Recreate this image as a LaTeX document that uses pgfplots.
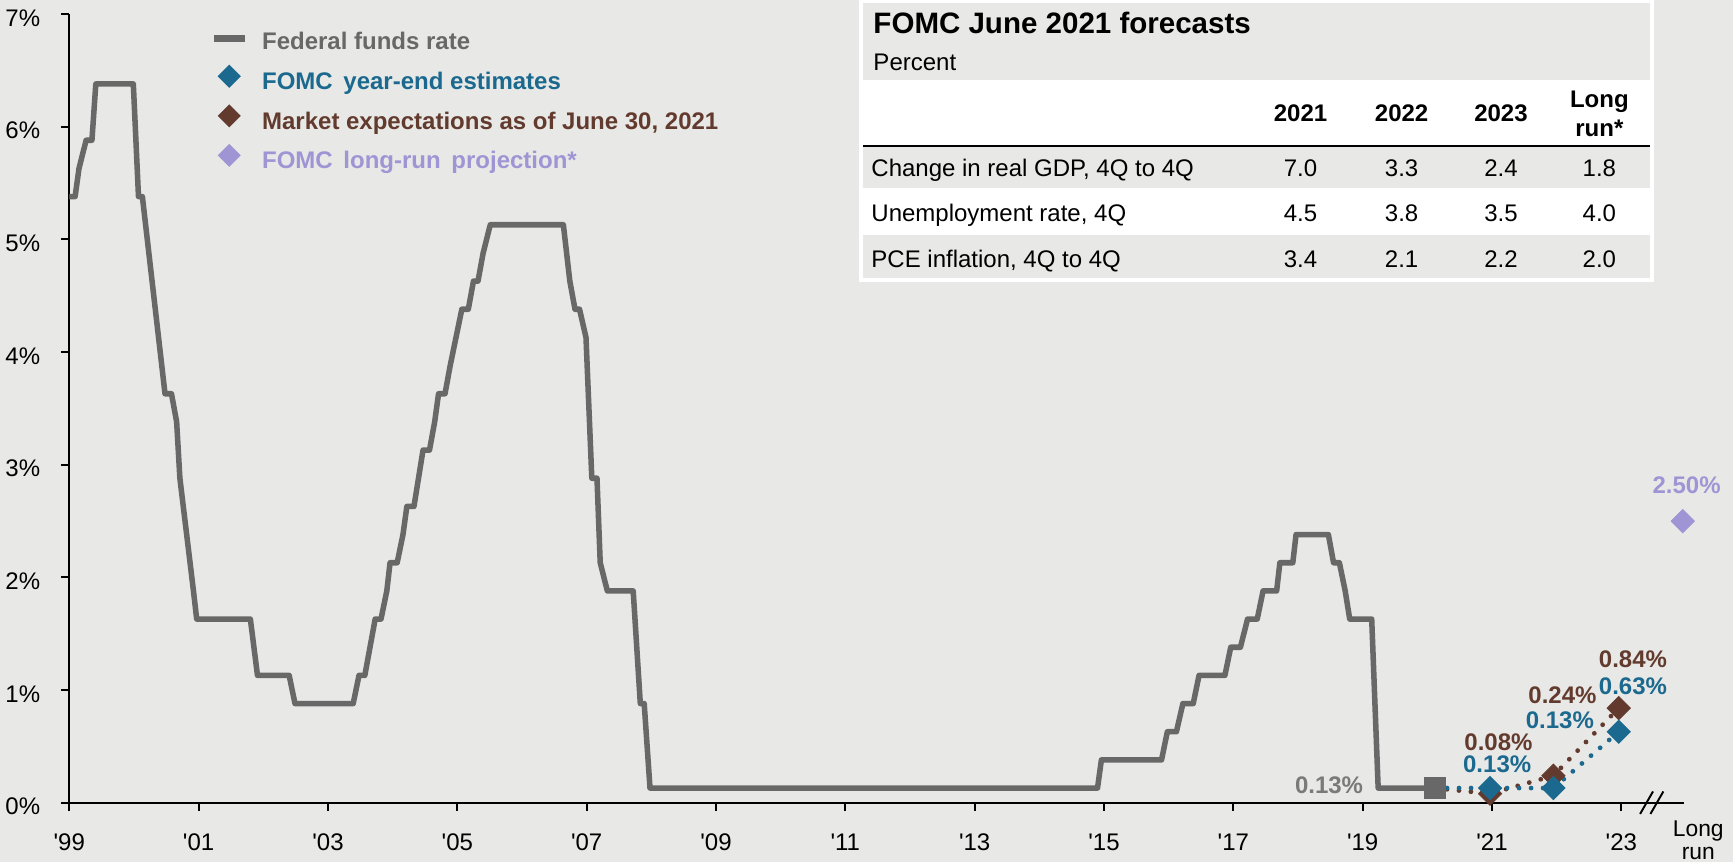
\documentclass[border=0pt]{standalone}
\usepackage{fontspec}
\setmainfont{Liberation Sans}[Ligatures=TeXOff]
\usepackage{pgfplots}
\pgfplotsset{compat=1.18}
\definecolor{bg}{RGB}{232,232,230}
\definecolor{ffr}{RGB}{104,104,104}
\definecolor{lbl}{RGB}{122,122,122}
\definecolor{fomc}{RGB}{27,105,143}
\definecolor{mkt}{RGB}{99,59,46}
\definecolor{lr}{RGB}{160,149,212}
\tikzset{lab/.style={font=\fontsize{10}{12}\selectfont\bfseries, inner sep=0pt, text height=7.2pt, text depth=0pt}}
\begin{document}
\begin{tikzpicture}
\fill[bg] (0,0) rectangle (722.08pt,359.17pt);
\path[use as bounding box] (0,0) rectangle (722.08pt,359.17pt);
\begin{axis}[
  at={(28.875pt,24.71pt)}, anchor=south west,
  width=672.8pt, height=328.6pt, scale only axis,
  xmin=1999, xmax=2023.97, ymin=0, ymax=7,
  clip=false,
  axis lines=left,
  axis line style={-, line width=0.8pt, black},
  tick style={black, line width=0.8pt},
  tick align=outside,
  major tick length=3.3pt,
  xtick={1999,2001,2003,2005,2007,2009,2011,2013,2015,2017,2019,2021,2023},
  xticklabels={'99,'01,'03,'05,'07,'09,'11,'13,'15,'17,'19,'21,'23},
  ytick={0,1,2,3,4,5,6,7},
  yticklabels={0\%,1\%,2\%,3\%,4\%,5\%,6\%,7\%},
  xticklabel style={font=\fontsize{10}{12}\selectfont, anchor=north, inner sep=0pt, text height=7.2pt, text depth=0pt, yshift=-9.3pt},
  yticklabel style={font=\fontsize{10}{12}\selectfont, anchor=east, inner sep=0pt, text height=7.2pt, text depth=0pt, xshift=-8.67pt, yshift=-1.5pt},
  legend style={at={(axis description cs:0.0871,0.9875)}, anchor=north west, draw=none, fill=none, inner sep=0pt, row sep=2.5pt, column sep=5.85pt,
    nodes={inner sep=0pt, text height=7.2pt, text depth=0pt, font=\fontsize{10}{12}\selectfont\bfseries}},
  legend cell align=left,
]
\addlegendimage{legend image code/.code={\path[draw=none,fill=none] (0pt,-7pt) rectangle (12.9pt,7pt); \draw[ffr,line width=2.8pt] (0pt,1pt) -- (12.9pt,1pt);}}
\addlegendentry{\textcolor{ffr}{Federal funds rate}}
\addlegendimage{legend image code/.code={\path[draw=none,fill=none] (0pt,-7pt) rectangle (12.9pt,7pt); \fill[fomc,draw=none] (6.45pt,6.7pt) -- (11.25pt,1.9pt) -- (6.45pt,-2.9pt) -- (1.65pt,1.9pt) -- cycle;}}
\addlegendentry{\textcolor{fomc}{FOMC\, year-end estimates}}
\addlegendimage{legend image code/.code={\path[draw=none,fill=none] (0pt,-7pt) rectangle (12.9pt,7pt); \fill[mkt,draw=none] (6.45pt,6.7pt) -- (11.25pt,1.9pt) -- (6.45pt,-2.9pt) -- (1.65pt,1.9pt) -- cycle;}}
\addlegendentry{\textcolor{mkt}{Market expectations as of June 30, 2021}}
\addlegendimage{legend image code/.code={\path[draw=none,fill=none] (0pt,-7pt) rectangle (12.9pt,7pt); \fill[lr,draw=none] (6.45pt,6.7pt) -- (11.25pt,1.9pt) -- (6.45pt,-2.9pt) -- (1.65pt,1.9pt) -- cycle;}}
\addlegendentry{\textcolor{lr}{FOMC\, long-run\, projection*}}

% dotted projections
\addplot[mkt, line width=2.0pt, dash pattern=on 0pt off 5pt, line cap=round, forget plot]
  coordinates {(2020.12,0.13) (2020.97,0.08) (2021.95,0.24) (2022.96,0.84)};
\addplot[fomc, line width=2.0pt, dash pattern=on 0pt off 5pt, line cap=round, forget plot]
  coordinates {(2020.12,0.13) (2020.97,0.13) (2021.95,0.13) (2022.96,0.63)};

% federal funds rate
\addplot[ffr, line width=2.3pt, line join=round, forget plot] coordinates {
(1999.00,5.38) (1999.09,5.38) (1999.15,5.63) (1999.26,5.88) (1999.35,5.88)
(1999.41,6.38) (1999.99,6.38) (2000.07,5.38) (2000.13,5.38) (2000.48,3.63)
(2000.58,3.63) (2000.66,3.38) (2000.71,2.88) (2000.92,1.88) (2000.97,1.63)
(2001.80,1.63) (2001.91,1.13) (2002.40,1.13) (2002.49,0.88) (2003.39,0.88)
(2003.48,1.13) (2003.57,1.13) (2003.65,1.38) (2003.73,1.63) (2003.82,1.63)
(2003.91,1.88) (2003.96,2.13) (2004.07,2.13) (2004.16,2.38) (2004.22,2.63)
(2004.33,2.63) (2004.40,2.88) (2004.47,3.13) (2004.57,3.13) (2004.65,3.38)
(2004.71,3.63) (2004.81,3.63) (2004.89,3.88) (2005.07,4.38) (2005.17,4.38)
(2005.25,4.63) (2005.32,4.63) (2005.40,4.88) (2005.51,5.13) (2006.64,5.13)
(2006.74,4.63) (2006.82,4.38) (2006.89,4.38) (2006.99,4.13) (2007.08,2.88)
(2007.16,2.88) (2007.21,2.13) (2007.32,1.88) (2007.72,1.88) (2007.83,0.88)
(2007.89,0.88) (2007.98,0.13) (2014.90,0.13) (2014.96,0.38) (2015.89,0.38)
(2015.98,0.63) (2016.12,0.63) (2016.22,0.88) (2016.38,0.88) (2016.47,1.13)
(2016.87,1.13) (2016.96,1.38) (2017.11,1.38) (2017.22,1.63) (2017.37,1.63)
(2017.46,1.88) (2017.67,1.88) (2017.72,2.13) (2017.92,2.13) (2017.97,2.38)
(2018.47,2.38) (2018.55,2.13) (2018.64,2.13) (2018.73,1.88) (2018.80,1.63)
(2019.14,1.63) (2019.24,0.13) (2020.12,0.13)};
\addplot[ffr, only marks, mark=square*, mark size=4.4pt, forget plot] coordinates {(2020.12,0.13)};

% markers
\addplot[mkt, only marks, mark=square*, mark size=3.4pt, mark options={rotate=45}, forget plot]
  coordinates {(2020.97,0.08) (2021.95,0.24) (2022.96,0.84)};
\addplot[fomc, only marks, mark=square*, mark size=3.4pt, mark options={rotate=45}, forget plot]
  coordinates {(2020.97,0.13) (2021.95,0.13) (2022.96,0.63)};
\addplot[lr, only marks, mark=square*, mark size=3.4pt, mark options={rotate=45}, forget plot]
  coordinates {(2023.95,2.50)};

% data labels
\node[lab, text=lbl] at (axis cs:2018.48,0.16) {0.13\%};
\node[lab, text=mkt] at (axis cs:2021.10,0.54) {0.08\%};
\node[lab, text=fomc] at (axis cs:2021.08,0.345) {0.13\%};
\node[lab, text=mkt] at (axis cs:2022.09,0.956) {0.24\%};
\node[lab, text=fomc] at (axis cs:2022.05,0.734) {0.13\%};
\node[lab, text=mkt] at (axis cs:2023.18,1.273) {0.84\%};
\node[lab, text=fomc] at (axis cs:2023.18,1.036) {0.63\%};
\node[lab, text=lr] at (axis cs:2024.01,2.82) {2.50\%};

% axis break and long run label
\draw[black, line width=0.8pt] (axis cs:2023.29,-0.1) -- (axis cs:2023.49,0.1);
\draw[black, line width=0.8pt] (axis cs:2023.45,-0.1) -- (axis cs:2023.65,0.1);
\node[anchor=base, font=\fontsize{9.5}{11}\selectfont, inner sep=0pt, yshift=-14.1pt] at (axis cs:2024.19,0) {Long};
\node[anchor=base, font=\fontsize{9.5}{11}\selectfont, inner sep=0pt, yshift=-23.5pt] at (axis cs:2024.19,0) {run};
\end{axis}

% forecast table
\fill[white] (357.9pt,241.5pt) rectangle (689.2pt,359.17pt);
\fill[bg] (359.7pt,325.8pt) rectangle (687.5pt,357.9pt);
\fill[bg] (359.7pt,280.8pt) rectangle (687.5pt,297.8pt);
\fill[bg] (359.7pt,243.2pt) rectangle (687.5pt,261.25pt);
\draw[black, line width=1pt] (359.7pt,298.3pt) -- (687.5pt,298.3pt);
\begin{scope}[every node/.style={inner sep=0pt, font=\fontsize{10}{12}\selectfont}]
\node[anchor=base west, font=\fontsize{12.3}{14}\selectfont\bfseries] at (363.75pt,345.3pt) {FOMC June 2021 forecasts};
\node[anchor=base west] at (363.75pt,329.75pt) {Percent};
\node[anchor=base, font=\fontsize{10}{12}\selectfont\bfseries] at (541.9pt,308.5pt) {2021};
\node[anchor=base, font=\fontsize{10}{12}\selectfont\bfseries] at (584.0pt,308.5pt) {2022};
\node[anchor=base, font=\fontsize{10}{12}\selectfont\bfseries] at (625.4pt,308.5pt) {2023};
\node[anchor=base, font=\fontsize{10}{12}\selectfont\bfseries] at (666.4pt,314.3pt) {Long};
\node[anchor=base, font=\fontsize{10}{12}\selectfont\bfseries] at (666.4pt,302.4pt) {run*};
\node[anchor=base west] at (362.9pt,285.6pt) {Change in real GDP, 4Q to 4Q};
\node[anchor=base west] at (362.9pt,266.7pt) {Unemployment rate, 4Q};
\node[anchor=base west] at (362.9pt,247.9pt) {PCE inflation, 4Q to 4Q};
\node[anchor=base] at (541.9pt,285.6pt) {7.0};
\node[anchor=base] at (584.0pt,285.6pt) {3.3};
\node[anchor=base] at (625.4pt,285.6pt) {2.4};
\node[anchor=base] at (666.4pt,285.6pt) {1.8};
\node[anchor=base] at (541.9pt,266.7pt) {4.5};
\node[anchor=base] at (584.0pt,266.7pt) {3.8};
\node[anchor=base] at (625.4pt,266.7pt) {3.5};
\node[anchor=base] at (666.4pt,266.7pt) {4.0};
\node[anchor=base] at (541.9pt,247.9pt) {3.4};
\node[anchor=base] at (584.0pt,247.9pt) {2.1};
\node[anchor=base] at (625.4pt,247.9pt) {2.2};
\node[anchor=base] at (666.4pt,247.9pt) {2.0};
\end{scope}
\end{tikzpicture}
\end{document}
